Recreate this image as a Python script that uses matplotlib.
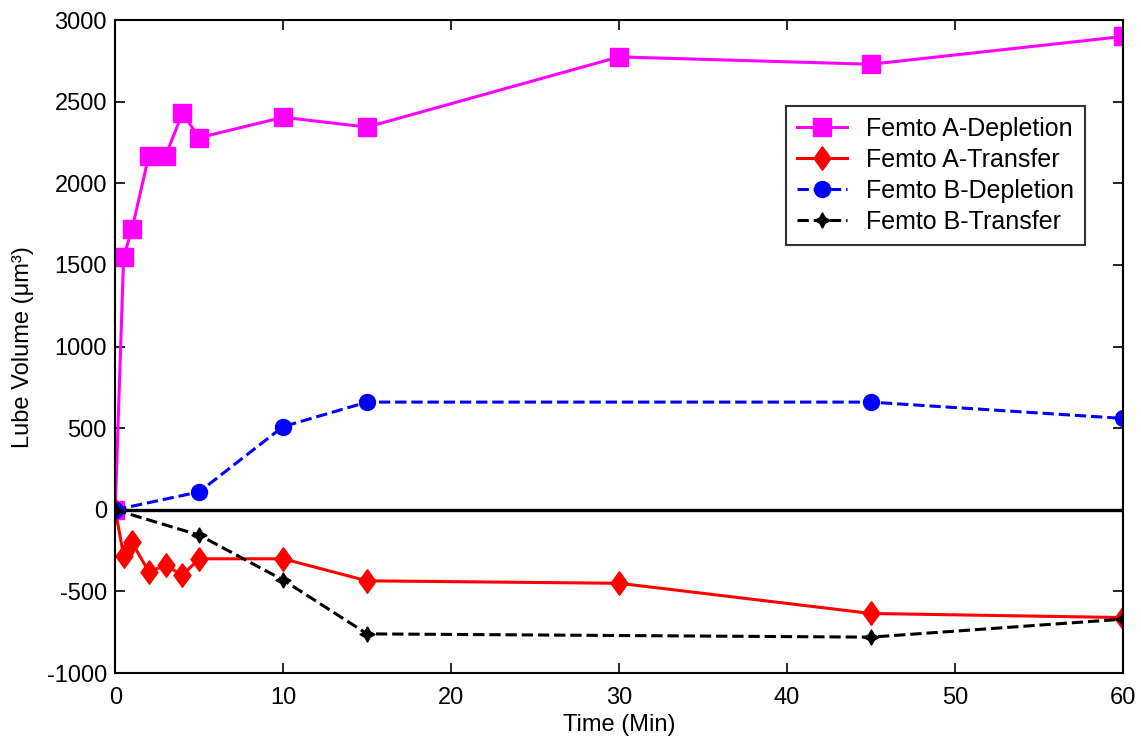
import matplotlib
matplotlib.use('Agg')
import matplotlib.pyplot as plt

# time points (min)
t_a = [0, 0.5, 1, 2, 3, 4, 5, 10, 15, 30, 45, 60]
t_b = [0, 5, 10, 15, 45, 60]

# lube volume values (um^3)
a_depletion = [0, 1550, 1720, 2170, 2170, 2430, 2280, 2405, 2345, 2775, 2730, 2900]
a_transfer = [0, -280, -200, -380, -340, -400, -300, -300, -435, -450, -635, -660]
b_depletion = [0, 110, 510, 660, 660, 560]
b_transfer = [0, -155, -430, -760, -780, -670]

labels = ['Femto A-Depletion', 'Femto A-Transfer', 'Femto B-Depletion', 'Femto B-Transfer']

plt.rcParams['font.family'] = ['Liberation Sans', 'DejaVu Sans']
plt.rcParams['axes.unicode_minus'] = False

fig = plt.figure(figsize=(11.41, 7.47), dpi=100)
ax = fig.add_axes([0.101, 0.099, 0.883, 0.874])

# wider diamond like the matlab one
diamond = [(0, 1), (0.72, 0), (0, -1), (-0.72, 0), (0, 1)]

ax.plot([0, 60], [0, 0], color='black', lw=2.4, zorder=1)
ax.plot(t_a, a_depletion, '-', color='#ff00ff', marker='s', ms=13, lw=2.2, label=labels[0])
ax.plot(t_a, a_transfer, '-', color='#ff0000', marker=diamond, ms=17, lw=2.2, label=labels[1])
ax.plot(t_b, b_depletion, '--', color='#0000ff', marker='o', ms=11.5, lw=2.2, label=labels[2])
ax.plot(t_b, b_transfer, '--', color='black', marker=(4, 1, 0), ms=11, lw=2.2, label=labels[3])

ax.set_xlim(0, 60)
ax.set_ylim(-1000, 3000)
ax.set_xticks(range(0, 61, 10))
ax.set_yticks(range(-1000, 3001, 500))
ax.tick_params(direction='in', length=7, width=1.2, labelsize=17, top=True, right=True)
ax.tick_params(axis='x', pad=10)
ax.tick_params(axis='y', pad=6)
for s in ax.spines.values():
    s.set_linewidth(1.5)

ax.set_xlabel('Time (Min)', fontsize=17, labelpad=4)
ax.set_ylabel('Lube Volume (μm³)', fontsize=17, labelpad=9)

leg = ax.legend(loc='upper right', bbox_to_anchor=(0.975, 0.888), fontsize=18,
                frameon=True, fancybox=False, edgecolor='black', handlelength=2.0,
                borderpad=0.45, labelspacing=0.28, handletextpad=0.75)
leg.get_frame().set_linewidth(1.5)

fig.savefig('out.png', dpi=100)
